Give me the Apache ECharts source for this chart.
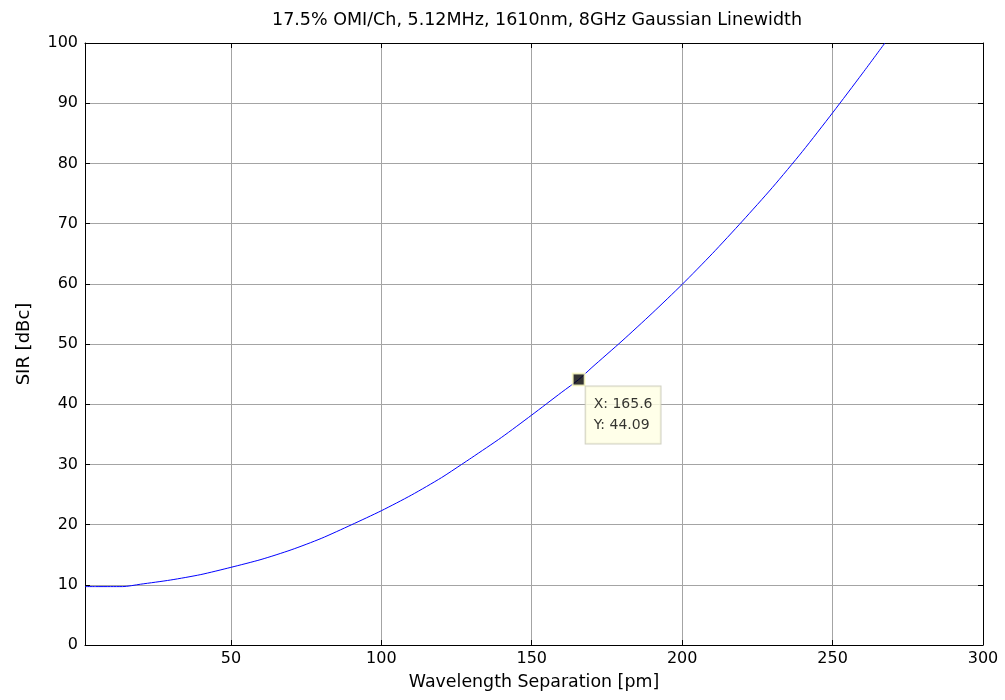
<!DOCTYPE html>
<html>
<head>
<meta charset="utf-8">
<script src="https://cdn.jsdelivr.net/npm/echarts@6/dist/echarts.min.js"></script>
<style>
  html, body { margin: 0; padding: 0; background: #fff; }
  #chart { width: 1005px; height: 700px; }
</style>
</head>
<body>
<div id="chart"></div>
<script>
// Wavelength separation [pm] and resulting SIR [dBc]
const sepPm = [1.5, 5, 10, 14, 20, 30, 40, 50, 60, 70, 80, 90, 100, 110, 120, 126.7, 130, 140, 150, 160, 165.6, 170, 180, 190, 200, 210, 220, 230, 240, 250, 260, 267.4];
const sirDbc = [9.7, 9.7, 9.7, 9.7, 10.1, 10.8, 11.7, 12.9, 14.2, 15.8, 17.7, 19.95, 22.3, 24.9, 27.8, 30.0, 31.1, 34.5, 38.2, 42.0, 44.09, 46.1, 50.5, 55.1, 59.9, 65.0, 70.4, 76.0, 82.0, 88.4, 95.0, 100];

// Highlighted data tip
const tipX = 165.6;
const tipY = 44.09;

// Axis tick values
const xTicks = [50, 100, 150, 200, 250, 300];
const yMin = 0, yMax = 100, yStep = 10;

const FONT = 'DejaVu Sans';
const titleText = '17.5% OMI/Ch, 5.12MHz, 1610nm, 8GHz Gaussian Linewidth';

const chart = echarts.init(document.getElementById('chart'), null, { renderer: 'canvas' });

const axisLine = { show: true, onZero: false, lineStyle: { color: '#000', width: 1 } };
const tickStyle = { color: '#000', width: 1 };
const gridLine = { show: true, lineStyle: { color: '#a4a4a4', width: 1, type: 'solid' } };

const option = {
  backgroundColor: '#fff',
  animation: false,
  title: {
    text: titleText,
    left: 532, top: 6, textAlign: 'center',
    textStyle: { fontFamily: FONT, fontSize: 17.5, fontWeight: 'normal', color: '#000' }
  },
  grid: { left: 85, right: 22, top: 43, bottom: 55, containLabel: false },
  xAxis: [
    {
      type: 'value', min: 1.5, max: 300, position: 'bottom',
      axisLine: axisLine,
      axisTick: { show: true, inside: true, length: 5, customValues: xTicks, lineStyle: tickStyle },
      axisLabel: { customValues: xTicks, color: '#000', fontFamily: FONT, fontSize: 16, margin: 6 },
      splitLine: gridLine,
      name: 'Wavelength Separation [pm]', nameLocation: 'middle', nameGap: 29,
      nameTextStyle: { fontFamily: FONT, fontSize: 17.4, color: '#000' }
    },
    {
      type: 'value', min: 1.5, max: 300, position: 'top',
      axisLine: axisLine,
      axisTick: { show: true, inside: true, length: 5, customValues: xTicks, lineStyle: tickStyle },
      axisLabel: { show: false },
      splitLine: { show: false }
    }
  ],
  yAxis: [
    {
      type: 'value', min: yMin, max: yMax, interval: yStep, position: 'left',
      axisLine: axisLine,
      axisTick: { show: true, inside: true, length: 5, lineStyle: tickStyle },
      axisLabel: { color: '#000', fontFamily: FONT, fontSize: 16, margin: 7 },
      splitLine: gridLine,
      name: 'SIR [dBc]', nameLocation: 'middle', nameGap: 52,
      nameTextStyle: { fontFamily: FONT, fontSize: 18, color: '#000' }
    },
    {
      type: 'value', min: yMin, max: yMax, interval: yStep, position: 'right',
      axisLine: axisLine,
      axisTick: { show: true, inside: true, length: 5, lineStyle: tickStyle },
      axisLabel: { show: false },
      splitLine: { show: false }
    }
  ],
  series: [
    {
      type: 'line',
      data: sepPm.map((x, i) => [x, sirDbc[i]]),
      showSymbol: false,
      smooth: 0.25,
      clip: true,
      lineStyle: { color: '#0000ff', width: 1 },
      z: 3
    },
    {
      type: 'scatter',
      data: [[tipX, tipY]],
      symbol: 'rect',
      symbolSize: 12,
      itemStyle: { color: '#000', borderColor: '#ffffc8', borderWidth: 2 },
      emphasis: { disabled: true },
      label: {
        show: true,
        position: [14, 14],
        formatter: 'X: ' + tipX + '\nY: ' + tipY,
        fontFamily: FONT, fontSize: 14, lineHeight: 21, color: '#000',
        backgroundColor: '#ffffe4',
        borderColor: '#c4c4b4', borderWidth: 1,
        padding: [7, 8, 8, 8]
      },
      z: 5
    }
  ]
};

chart.setOption(option);
</script>
</body>
</html>
